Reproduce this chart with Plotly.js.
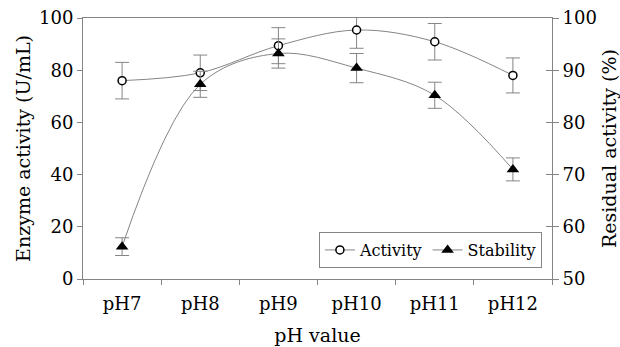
<!DOCTYPE html>
<html>
<head>
<meta charset="utf-8">
<script src="https://cdn.plot.ly/plotly-3.0.1.min.js"></script>
<style>html,body{margin:0;padding:0;background:#fff;}#chart{width:620px;height:347px;}</style>
</head>
<body>
<div id="chart"></div>
<script>
const categories = ["pH7", "pH8", "pH9", "pH10", "pH11", "pH12"];
const activity = [76.0, 79.0, 89.4, 95.4, 90.9, 78.0];
const activityErr = [7.0, 6.8, 6.9, 7.0, 7.0, 6.7];
const stability = [56.2, 87.3, 93.2, 90.4, 85.2, 71.0];
const stabilityErr = [1.7, 2.5, 2.8, 2.8, 2.5, 2.2];

const FONT = "DejaVu Serif";
const GREY = "#858585";

const traces = [
  {
    x: categories, y: activity, name: "Activity", type: "scatter", mode: "lines+markers",
    yaxis: "y",
    line: {color: GREY, width: 1, shape: "spline", smoothing: 1},
    marker: {symbol: "circle", size: 8, color: "#fff", line: {color: "#000", width: 1.5}},
    error_y: {type: "data", array: activityErr, visible: true, color: GREY, thickness: 1, width: 7}
  },
  {
    x: categories, y: stability, name: "Stability", type: "scatter", mode: "lines+markers",
    yaxis: "y2",
    line: {color: GREY, width: 1, shape: "spline", smoothing: 1},
    marker: {symbol: "triangle-up", size: 11, color: "#000", line: {color: "#000", width: 0}},
    error_y: {type: "data", array: stabilityErr, visible: true, color: GREY, thickness: 1, width: 7}
  }
];

const layout = {
  width: 620, height: 347,
  margin: {l: 83, r: 68, t: 18, b: 68},
  paper_bgcolor: "#fff", plot_bgcolor: "#fff",
  font: {family: FONT, color: "#000", size: 18},
  showlegend: true,
  legend: {
    orientation: "h", x: 0.503, y: 0.042, xanchor: "left", yanchor: "bottom",
    bordercolor: GREY, borderwidth: 1, bgcolor: "#fff",
    font: {family: FONT, size: 16, color: "#000"},
    itemwidth: 30, tracegroupgap: 0
  },
  xaxis: {
    type: "category", range: [-0.5, 5.5], tickson: "boundaries",
    ticks: "outside", ticklen: 5, tickcolor: GREY, tickwidth: 1,
    showline: true, linecolor: GREY, linewidth: 1, mirror: true,
    showgrid: false, zeroline: false, fixedrange: true,
    ticklabelstandoff: 8,
    tickfont: {family: FONT, size: 18},
    title: {text: "pH value", font: {family: FONT, size: 19}, standoff: 16}
  },
  yaxis: {
    range: [0, 100], dtick: 20, ticks: "outside", ticklen: 5, tickcolor: GREY,
    showline: true, linecolor: GREY, linewidth: 1,
    showgrid: false, zeroline: false,
    tickfont: {family: FONT, size: 18},
    title: {text: "Enzyme activity (U/mL)", font: {family: FONT, size: 19}, standoff: 3}
  },
  yaxis2: {
    range: [50, 100], dtick: 10, overlaying: "y", side: "right",
    ticks: "outside", ticklen: 6, tickcolor: GREY,
    showline: true, linecolor: GREY, linewidth: 1,
    showgrid: false, zeroline: false,
    tickfont: {family: FONT, size: 18},
    title: {text: "Residual activity (%)", font: {family: FONT, size: 19}, standoff: 8}
  },
  yaxis3: {
    range: [50, 100], dtick: 10, overlaying: "y", side: "right", anchor: "x",
    ticks: "inside", ticklen: 6, tickcolor: GREY, showticklabels: false,
    showline: false, showgrid: false, zeroline: false
  }
};

traces.push({x: categories, y: stability, yaxis: "y3", type: "scatter", mode: "none", showlegend: false, hoverinfo: "skip"});

Plotly.newPlot("chart", traces, layout, {displayModeBar: false, staticPlot: true});
</script>
</body>
</html>
